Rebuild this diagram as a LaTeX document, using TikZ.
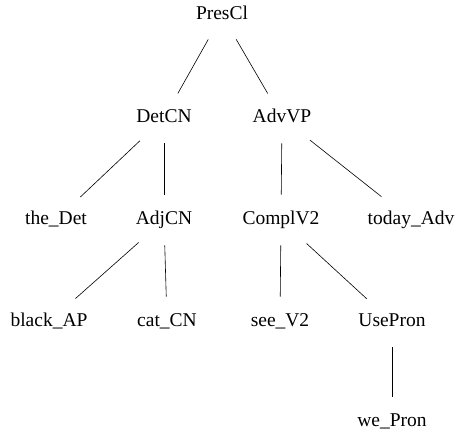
\documentclass[tikz,border=0pt]{standalone}
\usepackage{fontspec}
\setmainfont{Liberation Serif}
\usetikzlibrary{shapes.geometric}

\begin{document}
\begin{tikzpicture}[x=1pt, y=-1pt, line width=0.6pt,
		tn/.style={ellipse, inner xsep=11pt, inner ysep=4pt, minimum height=50pt, minimum width=76pt,
			text height=13pt, text depth=4pt, font=\fontsize{19.5}{23}\selectfont}]
		\useasboundingbox (0, 0) rectangle (457, 437);

		\node[tn] (prescl) at (222, 15) {PresCl};
		\node[tn] (detcn) at (164, 118) {DetCN};
		\node[tn] (advvp) at (282, 118) {AdvVP};
		\node[tn] (thedet) at (56, 220) {the\_Det};
		\node[tn] (adjcn) at (164, 220) {AdjCN};
		\node[tn] (complv) at (281, 220) {ComplV2};
		\node[tn] (todayadv) at (411, 220) {today\_Adv};
		\node[tn] (blackap) at (49, 322) {black\_AP};
		\node[tn] (catcn) at (167, 322) {cat\_CN};
		\node[tn] (seev) at (280, 322) {see\_V2};
		\node[tn] (usepron) at (392, 322) {UsePron};
		\node[tn] (wepron) at (392, 422) {we\_Pron};

		\draw (prescl) -- (detcn);
		\draw (prescl) -- (advvp);
		\draw (detcn) -- (thedet);
		\draw (detcn) -- (adjcn);
		\draw (advvp) -- (complv);
		\draw (advvp) -- (todayadv);
		\draw (adjcn) -- (blackap);
		\draw (adjcn) -- (catcn);
		\draw (complv) -- (seev);
		\draw (complv) -- (usepron);
		\draw (usepron) -- (wepron);
	\end{tikzpicture}
\end{document}
